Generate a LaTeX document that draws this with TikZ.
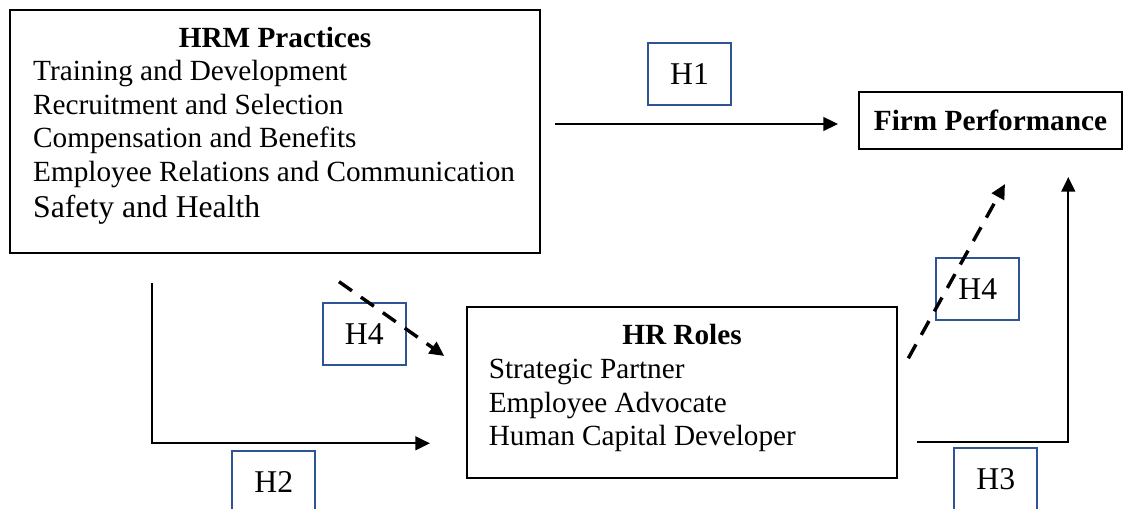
\documentclass[tikz,border=0pt]{standalone}
\usepackage{fontspec}
\setmainfont{Liberation Serif}
\usetikzlibrary{arrows.meta}
\tikzset{>={Triangle[length=6pt,width=5.6pt]}}
\definecolor{hblue}{RGB}{47,84,150}
\newcommand\pxl{0.4102pt}

\begin{document}
\begin{tikzpicture}[x=\pxl, y=-\pxl,
	box/.style={draw, line width=0.9pt, inner sep=0pt},
	hbox/.style={draw=hblue, line width=0.8pt, inner sep=0pt, minimum width=83*\pxl, minimum height=62*\pxl, font=\fontsize{13}{15}\selectfont},
	title/.style={font=\fontsize{12}{14}\selectfont\bfseries, anchor=base, inner sep=0pt},
	item/.style={font=\fontsize{12}{14}\selectfont, anchor=base west, inner sep=0pt},
	conn/.style={->, line width=0.9pt},
	dconn/.style={->, line width=1.4pt, dash pattern=on 6.5pt off 4.5pt}]
		% Frame
		\useasboundingbox (0,0) rectangle (1130,509);
		\clip (0,0) rectangle (1130,509);

		% HRM Practices
		\node[box, minimum width=530*\pxl, minimum height=243*\pxl] (hrm) at (275,131.5) {};
		\node[title] (hrmtitle) at (275,47.3) {HRM Practices};
		\foreach \t [count=\i] in {Training and Development, Recruitment and Selection, Compensation and Benefits, Employee Relations and Communication}
			\node[item] (hrm\i) at (32.7,{81+33.5*(\i-1)}) {\t};
		\node[item, font=\fontsize{13}{15}\selectfont] (hrm5) at (32.7,217.3) {Safety and Health};

		% HR Roles
		\node[box, minimum width=430.6*\pxl, minimum height=171*\pxl] (roles) at (682,392.8) {};
		\node[title] (rolestitle) at (682,345) {HR Roles};
		\foreach \t [count=\i] in {Strategic Partner, Employee Advocate, Human Capital Developer}
			\node[item] (roles\i) at (488.3,{379+33.4*(\i-1)}) {\t};

		% Firm Performance
		\node[box, minimum width=263*\pxl, minimum height=57*\pxl, font=\fontsize{12}{14}\selectfont\bfseries] (firm) at (990.5,120.5) {Firm Performance};

		% Hypotheses
		\node[hbox] (h1) at (689.5,74) {H1};
		\node[hbox] (h2) at (273.8,481.7) {H2};
		\node[hbox] (h3) at (995.8,479.3) {H3};
		\node[hbox] (h4a) at (364.3,334) {H4};
		\node[hbox] (h4b) at (977.8,288.8) {H4};

		% Arrows
		\coordinate (h1s) at (555,124);
		\coordinate (h1e) at (838,124);
		\draw[conn] (h1s) -- (h1e);
		%
		\coordinate (h2s) at (152,283.3);
		\coordinate (h2e) at (430,443.3);
		\draw[conn] (h2s) |- (h2e);
		%
		\coordinate (h3s) at (917.3,441.7);
		\coordinate (h3e) at (1068.3,177);
		\draw[conn] (h3s) -| (h3e);
		%
		\coordinate (h4as) at (339,281.7);
		\coordinate (h4ae) at (444.3,356);
		\draw[dconn] (h4as) -- (h4ae);
		%
		\coordinate (h4bs) at (908.3,358.3);
		\coordinate (h4be) at (1005,184);
		\draw[dconn] (h4bs) -- (h4be);
\end{tikzpicture}
\end{document}
